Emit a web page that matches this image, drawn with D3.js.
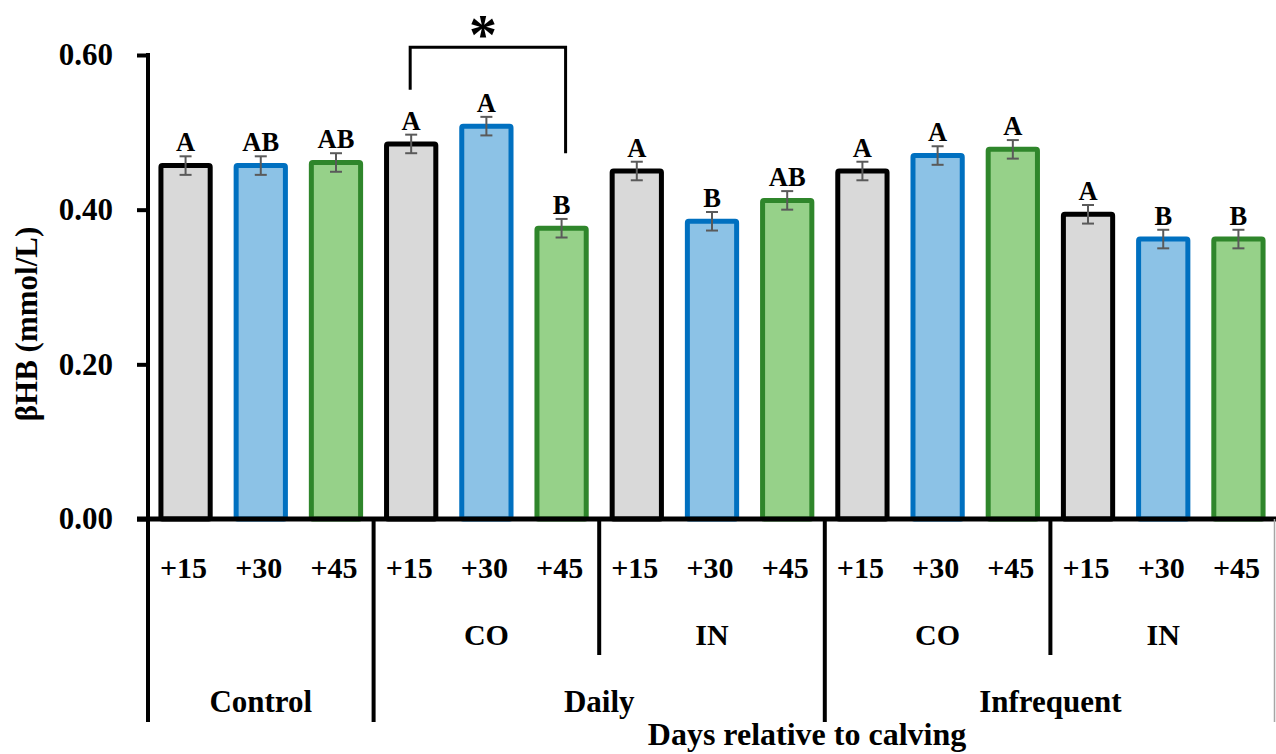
<!DOCTYPE html>
<html>
<head>
<meta charset="utf-8">
<script src="https://cdn.jsdelivr.net/npm/d3@7"></script>
<style>
  body { margin: 0; background: #fff; }
  svg text { font-family: "Palatino Linotype", "Book Antiqua", Palatino, "Liberation Serif", serif; font-weight: bold; fill: #000; }
</style>
</head>
<body>
<div id="chartId"></div>
<script>
/*
Data
*/
const dayLabels = ["+15", "+30", "+45"];
const panelLabels = ["", "CO", "IN", "CO", "IN"];
const groupLabels = ["Control", "Daily", "Infrequent"];
const groupSpans = [1, 2, 2];
const means = [0.457, 0.457, 0.461, 0.485, 0.508, 0.376, 0.450, 0.385, 0.412, 0.450, 0.470, 0.478, 0.394, 0.362, 0.362];
const sems = [0.012, 0.012, 0.012, 0.012, 0.012, 0.012, 0.012, 0.012, 0.012, 0.012, 0.012, 0.012, 0.012, 0.012, 0.012];
const letters = ["A", "AB", "AB", "A", "A", "B", "A", "B", "AB", "A", "A", "A", "A", "B", "B"];
const yTicks = [0, 0.2, 0.4, 0.6];
// significance bracket: from bar 3 to bar 5
const bracket = { from: 3, to: 5, top: 0.61, leftEnd: 0.555, rightEnd: 0.473 };

const fills = ["#d9d9d9", "#8cc2e6", "#96d189"];
const strokes = ["#000000", "#0070c0", "#2f862b"];

/*
Layout
*/
const width = 1276, height = 754;
const x0 = 148, x1 = 1276;
const rowLines = [519, 588, 655, 722];

const bars = means.map((m, i) => ({
    i: i,
    day: dayLabels[i % 3],
    panel: Math.floor(i / 3),
    mean: m,
    sem: sems[i],
    letter: letters[i]
}));

const x = d3.scaleBand()
    .domain(d3.range(bars.length))
    .range([x0, x1])
    .paddingInner(0.345)
    .paddingOuter(0.172);

const step = (x1 - x0) / bars.length;

const y = d3.scaleLinear()
    .domain([0, 0.6])
    .range([519, 55]);

const svg = d3.select("#chartId")
    .append("svg")
    .attr("width", width)
    .attr("height", height);

/*
Bars
*/
svg.append("g").selectAll("rect")
    .data(bars)
    .enter()
    .append("rect")
    .attr("x", d => x(d.i))
    .attr("y", d => y(d.mean))
    .attr("width", x.bandwidth())
    .attr("height", d => y(0) - y(d.mean))
    .attr("fill", d => fills[d.i % 3])
    .attr("stroke", d => strokes[d.i % 3])
    .attr("stroke-width", 5)
    .attr("rx", 1.5);

// error bars
const gErr = svg.append("g").attr("stroke", "#5a5a5a").attr("stroke-width", 2);
bars.forEach(d => {
    let cx = x(d.i) + x.bandwidth() / 2;
    gErr.append("line").attr("x1", cx).attr("x2", cx).attr("y1", y(d.mean + d.sem)).attr("y2", y(d.mean - d.sem));
    gErr.append("line").attr("x1", cx - 6).attr("x2", cx + 6).attr("y1", y(d.mean + d.sem)).attr("y2", y(d.mean + d.sem));
    gErr.append("line").attr("x1", cx - 6).attr("x2", cx + 6).attr("y1", y(d.mean - d.sem)).attr("y2", y(d.mean - d.sem));
});

// letters
svg.append("g").selectAll("text")
    .data(bars)
    .enter()
    .append("text")
    .attr("x", d => x(d.i) + x.bandwidth() / 2)
    .attr("y", d => y(d.mean + d.sem) - 5)
    .attr("text-anchor", "middle")
    .attr("font-size", 26.5)
    .text(d => d.letter);

/*
Significance bracket
*/
const bx1 = x(bracket.from) + x.bandwidth() / 2 - 1;
const bx2 = x(bracket.to) + x.bandwidth() / 2 + 4;
svg.append("path")
    .attr("d", `M${bx1},${y(bracket.leftEnd)} V${y(bracket.top)} H${bx2} V${y(bracket.rightEnd)}`)
    .attr("fill", "none")
    .attr("stroke", "#000")
    .attr("stroke-width", 3);
svg.append("text")
    .attr("x", (bx1 + bx2) / 2 - 5)
    .attr("y", 54)
    .attr("text-anchor", "middle")
    .attr("font-size", 56)
    .text("*");

/*
Y axis
*/
const yAxis = svg.append("g")
    .attr("transform", `translate(${x0},0)`)
    .call(d3.axisLeft(y).tickValues(yTicks).tickFormat(d3.format(".2f")).tickSize(11).tickSizeOuter(0).tickPadding(24));
yAxis.select(".domain").remove();
yAxis.selectAll(".tick line").attr("stroke", "#000").attr("stroke-width", 4);
yAxis.selectAll(".tick text").attr("font-size", 31).attr("font-family", null);

svg.append("line")
    .attr("x1", x0).attr("x2", x0)
    .attr("y1", y(0.6) - 2).attr("y2", rowLines[3])
    .attr("stroke", "#000").attr("stroke-width", 4);

// x axis line
svg.append("line")
    .attr("x1", x0 - 11).attr("x2", x1)
    .attr("y1", y(0)).attr("y2", y(0))
    .attr("stroke", "#000").attr("stroke-width", 5);

/*
Category table below the axis
*/
// day labels
svg.append("g").selectAll("text")
    .data(bars)
    .enter()
    .append("text")
    .attr("x", d => x(d.i) + x.bandwidth() / 2 - 2)
    .attr("y", 578)
    .attr("text-anchor", "middle")
    .attr("font-size", 30)
    .text(d => d.day);

// panel labels (CO / IN)
svg.append("g").selectAll("text")
    .data(panelLabels)
    .enter()
    .append("text")
    .attr("x", (d, i) => x0 + step * (i * 3 + 1.5))
    .attr("y", 645)
    .attr("text-anchor", "middle")
    .attr("font-size", 30)
    .text(d => d);

// treatment labels
let start = 0;
const groups = groupLabels.map((g, i) => {
    let s = start;
    start += groupSpans[i];
    return { label: g, start: s, end: start };
});
svg.append("g").selectAll("text")
    .data(groups)
    .enter()
    .append("text")
    .attr("x", d => x0 + step * 3 * (d.start + d.end) / 2)
    .attr("y", 712)
    .attr("text-anchor", "middle")
    .attr("font-size", 31)
    .text(d => d.label);

// separators
const gSep = svg.append("g").attr("stroke", "#000").attr("stroke-width", 4);
groups.forEach(d => {
    if (d.start > 0) {
        let sx = x0 + step * 3 * d.start;
        gSep.append("line").attr("x1", sx).attr("x2", sx).attr("y1", y(0)).attr("y2", rowLines[3]);
    }
    if (d.end - d.start > 1) {
        let sx = x0 + step * 3 * (d.start + 1);
        gSep.append("line").attr("x1", sx).attr("x2", sx).attr("y1", y(0)).attr("y2", rowLines[2]);
    }
});
svg.append("line")
    .attr("x1", x1 - 1.5).attr("x2", x1 - 1.5)
    .attr("y1", y(0)).attr("y2", rowLines[3])
    .attr("stroke", "#a6a6a6").attr("stroke-width", 1.5);

/*
Axis titles
*/
svg.append("text")
    .attr("transform", `translate(37,${(y(0) + y(0.6)) / 2 + 37}) rotate(-90)`)
    .attr("text-anchor", "middle")
    .attr("font-size", 31)
    .text("βHB (mmol/L)");

svg.append("text")
    .attr("x", 807)
    .attr("y", 745)
    .attr("text-anchor", "middle")
    .attr("font-size", 32)
    .text("Days relative to calving");
</script>
</body>
</html>
